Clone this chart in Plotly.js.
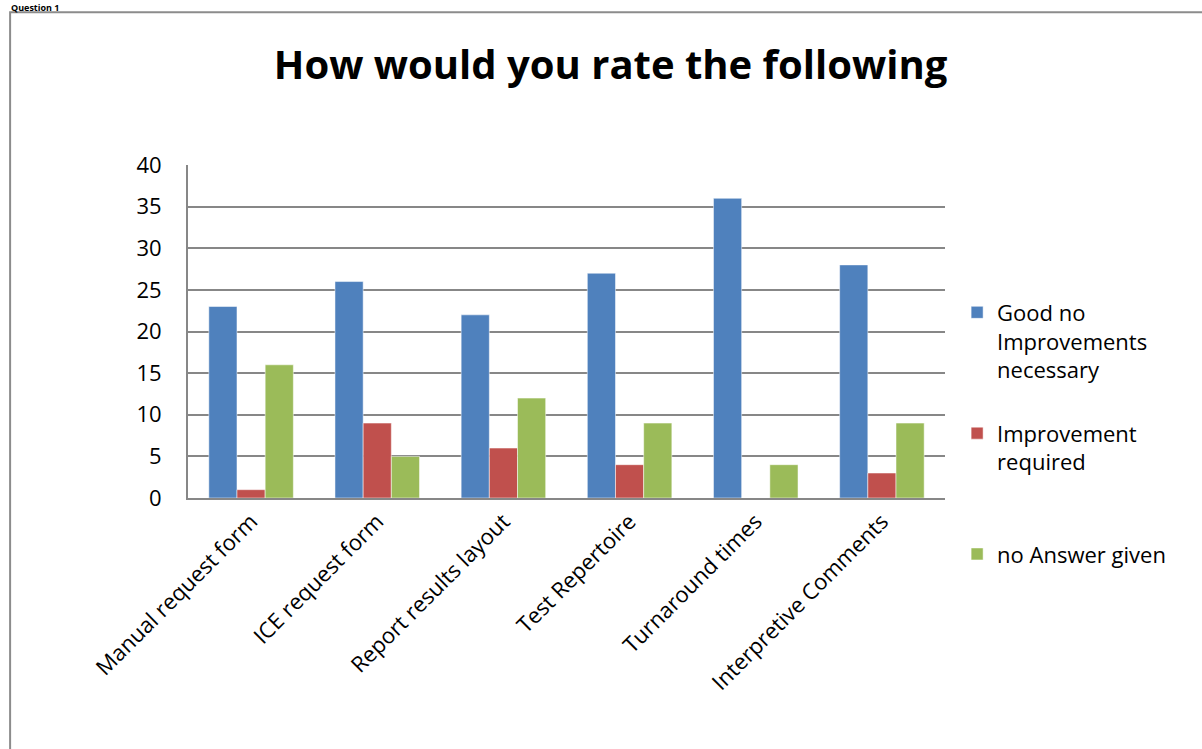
<!DOCTYPE html>
<html>
<head>
<meta charset="utf-8">
<script src="https://cdn.plot.ly/plotly-3.0.1.min.js"></script>
<style>html,body{margin:0;padding:0;background:#fff;}#chart{width:1202px;height:749px;}</style>
</head>
<body>
<div id="chart"></div>
<script>
const categories = ["Manual request form", "ICE request form", "Report results layout", "Test Repertoire", "Turnaround times", "Interpretive Comments"];
const seriesNames = ["Good no<br>Improvements<br>necessary", "Improvement<br>required<br>\u00a0", "no Answer given<br>\u00a0<br>\u00a0"];
const goodValues = [23, 26, 22, 27, 36, 28];
const improvementValues = [1, 9, 6, 4, 0, 3];
const noAnswerValues = [16, 5, 12, 9, 4, 9];
const colors = ["#4F81BD", "#C0504D", "#9BBB59"];

const fontFam = "Open Sans, Liberation Sans, sans-serif";
const allValues = [goodValues, improvementValues, noAnswerValues];
const traces = allValues.map((v, i) => ({
  type: "bar",
  name: seriesNames[i],
  x: categories,
  y: v,
  legendgroup: "g" + i,
  marker: {color: colors[i], line: {color: "rgba(255,255,255,0.5)", width: 1}},
  hoverinfo: "x+y"
}));

const layout = {
  width: 1202, height: 749,
  margin: {l: 188, r: 257, t: 165, b: 251},
  paper_bgcolor: "#fff", plot_bgcolor: "#fff",
  font: {family: fontFam, color: "#000", size: 20},
  title: {text: "<b>How would you rate the following</b>", font: {family: fontFam, size: 40, color: "#000"},
          x: 0.508, xanchor: "center", y: 0.913, yanchor: "middle", yref: "container"},
  barmode: "group", bargap: 0.33, bargroupgap: 0,
  xaxis: {tickangle: -45, showgrid: false, showline: true, linecolor: "#878787", linewidth: 2,
          tickfont: {size: 22, family: fontFam}, ticks: "", automargin: false},
  yaxis: {range: [0, 40], dtick: 5, showgrid: true, gridcolor: "#878787", gridwidth: 2,
          showline: true, linecolor: "#878787", linewidth: 2, zeroline: false,
          tickfont: {size: 22, family: fontFam}, ticks: "", ticklabelstandoff: 20, automargin: false},
  legend: {x: 1.016, xanchor: "left", y: 0.62, yanchor: "top", valign: "top", tracegroupgap: 32,
           maxheight: 700, font: {size: 22, family: fontFam}, itemwidth: 30, bgcolor: "rgba(0,0,0,0)"},
  shapes: [{type: "rect", xref: "paper", yref: "paper", x0: -0.235, x1: 1.6, y0: -1, y1: 1.459,
            line: {color: "#8c8c8c", width: 2}, fillcolor: "rgba(0,0,0,0)", layer: "below"}],
  annotations: [{text: "<b>Question 1</b>", xref: "paper", yref: "paper", x: -0.235, y: 1.495, xanchor: "left", yanchor: "top",
                 showarrow: false, borderpad: 0, font: {size: 9, family: fontFam, color: "#000"}}]
};

Plotly.newPlot("chart", traces, layout, {displayModeBar: false});
</script>
</body>
</html>
